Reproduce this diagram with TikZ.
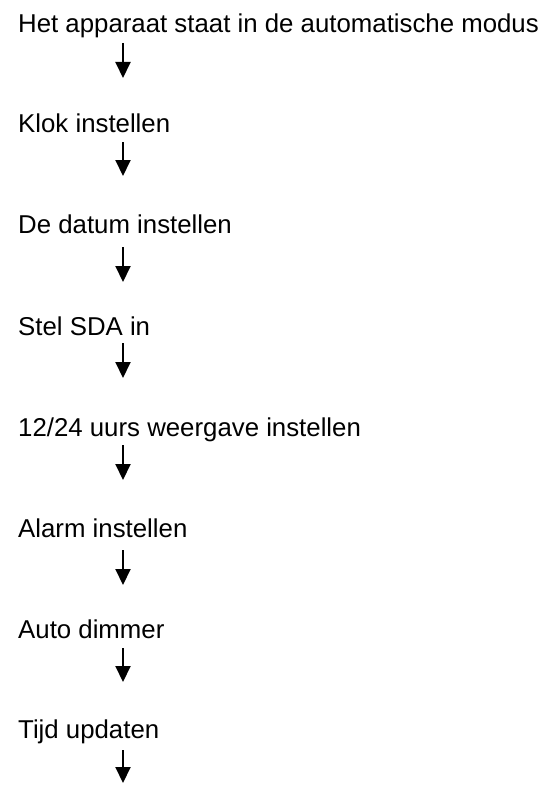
\documentclass[tikz,border=0pt]{standalone}
\usepackage{fontspec}
\setmainfont{Liberation Sans}
\usetikzlibrary{arrows.meta}
\begin{document}
\begin{tikzpicture}[x=1pt,y=1pt,
  stap/.style={anchor=base west,inner sep=0pt,font=\fontsize{25.8}{30}\selectfont},
  pijl/.style={-{Triangle[width=15pt,length=16pt]},line width=2pt}]
\useasboundingbox (0,0) rectangle (545,-789);
\node[stap] (auto) at (18,-33) {Het apparaat staat in de automatische modus};
\node[stap] (klok) at (18,-132) {Klok instellen};
\node[stap] (datum) at (18,-233) {De datum instellen};
\node[stap] (sda) at (18,-335) {Stel SDA in};
\node[stap] (uurs) at (18,-436) {12/24 uurs weergave instellen};
\node[stap] (alarm) at (18,-537) {Alarm instellen};
\node[stap] (dimmer) at (18,-638) {Auto dimmer};
\node[stap] (tijd) at (18,-738) {Tijd updaten};
\coordinate (a1) at (123,-43);
\coordinate (b1) at (123,-78);
\coordinate (a2) at (123,-142);
\coordinate (b2) at (123,-176);
\coordinate (a3) at (123,-247);
\coordinate (b3) at (123,-282);
\coordinate (a4) at (123,-343);
\coordinate (b4) at (123,-378);
\coordinate (a5) at (123,-445);
\coordinate (b5) at (123,-480);
\coordinate (a6) at (123,-550);
\coordinate (b6) at (123,-585);
\coordinate (a7) at (123,-648);
\coordinate (b7) at (123,-682);
\coordinate (a8) at (123,-750);
\coordinate (b8) at (123,-783);
\draw[pijl] (a1) -- (b1);
\draw[pijl] (a2) -- (b2);
\draw[pijl] (a3) -- (b3);
\draw[pijl] (a4) -- (b4);
\draw[pijl] (a5) -- (b5);
\draw[pijl] (a6) -- (b6);
\draw[pijl] (a7) -- (b7);
\draw[pijl] (a8) -- (b8);
\end{tikzpicture}
\end{document}
